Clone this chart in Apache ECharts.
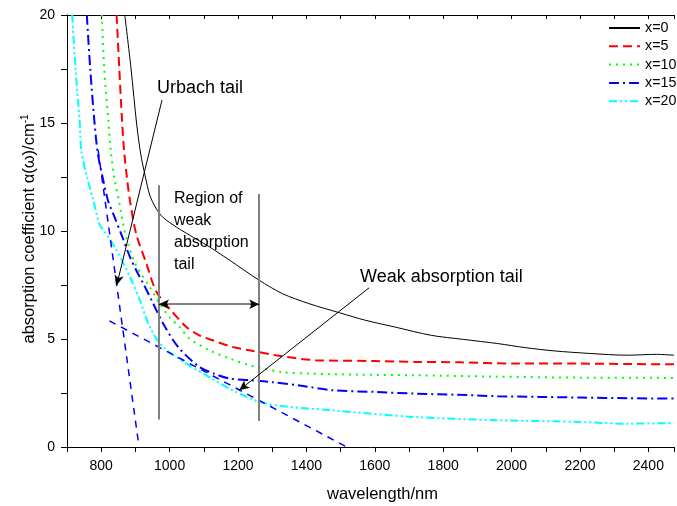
<!DOCTYPE html>
<html>
<head>
<meta charset="utf-8">
<script src="https://cdn.jsdelivr.net/npm/echarts@6/dist/echarts.min.js"></script>
<style>
  html, body { margin: 0; padding: 0; background: #fff; }
  #main { width: 677px; height: 506px; }
</style>
</head>
<body>
<div id="main"></div>
<script>
// data: [wavelength nm, alpha cm^-1]
var curveX0 = [[869, 20], [887, 17.55], [904, 14.91], [916, 13.52], [928, 12.59], [942, 11.66], [960, 11.06],
  [980, 10.64], [1020, 10.18], [1070, 9.7], [1116, 9.27], [1180, 8.6], [1262, 7.72], [1330, 7.1], [1407, 6.64],
  [1500, 6.2], [1572, 5.87], [1660, 5.55], [1765, 5.17], [1860, 4.98], [1959, 4.79], [2040, 4.6], [2124, 4.45],
  [2230, 4.33], [2337, 4.25], [2424, 4.29], [2475, 4.25]];
var curveX5 = [[845, 20], [853, 17.5], [861, 15.1], [867, 13.7], [875, 12.5], [884, 11.42], [902, 9.89],
  [932, 8.5], [961, 7.2], [1000, 6.4], [1049, 5.56], [1087, 5.17], [1126, 4.94], [1184, 4.63], [1233, 4.48],
  [1310, 4.25], [1426, 4.02], [1600, 3.98], [1717, 3.94], [1850, 3.92], [2008, 3.86], [2200, 3.86],
  [2350, 3.84], [2475, 3.83]];
var curveX10 = [[802, 20], [809, 17.5], [821, 15.1], [828, 13.7], [840, 12.3], [852, 11.4], [870, 9.9],
  [899, 8.5], [942, 7.41], [971, 6.64], [1000, 6.0], [1029, 5.56], [1058, 5.02], [1116, 4.48], [1175, 4.1],
  [1240, 3.76], [1329, 3.47], [1407, 3.4], [1550, 3.35], [1717, 3.32], [1950, 3.26], [2201, 3.21], [2475, 3.2]];
var curveX15 = [[758, 20], [768, 17.5], [780, 15.1], [790, 13.6], [806, 12.35], [820, 11.4], [835, 10.8],
  [860, 9.8], [884, 8.8], [905, 8.1], [923, 7.57], [952, 6.64], [981, 5.72], [1025, 4.63], [1087, 3.71],
  [1130, 3.4], [1175, 3.17], [1233, 3.1], [1300, 3.0], [1380, 2.85], [1475, 2.63], [1600, 2.55], [1717, 2.47],
  [1840, 2.42], [1959, 2.35], [2080, 2.32], [2201, 2.29], [2340, 2.26], [2475, 2.24]];
var curveX20 = [[715, 20], [725, 17.5], [737, 15.1], [742, 13.7], [760, 12.4], [777, 11.42], [795, 10.3],
  [811, 9.95], [845, 9.11], [884, 7.88], [913, 6.8], [942, 5.56], [981, 4.63], [1049, 3.86], [1116, 3.24],
  [1184, 2.63], [1281, 2.01], [1475, 1.70], [1717, 1.39], [1959, 1.24], [2201, 1.16], [2337, 1.08], [2475, 1.11]];

var seriesNames = ["x=0", "x=5", "x=10", "x=15", "x=20"];

// annotation lines (data coordinates)
var urbachFit = [[791, 13.74], [910, 0.08]];
var weakFit = [[824, 5.84], [1518, 0]];
var regionLeft = [[969, 12.12], [969, 1.27]];
var regionRight = [[1262, 11.71], [1262, 1.2]];
var regionSpan = [[969, 6.61], [1262, 6.61]];
var urbachPointer = [[977.8, 16.06], [845.3, 7.49]];
var weakPointer = [[1583.5, 7.37], [1203.6, 2.63]];

var xTicks = [800, 1000, 1200, 1400, 1600, 1800, 2000, 2200, 2400];
var yTicks = [0, 5, 10, 15, 20];

var FONT = "'Liberation Sans', Arial, sans-serif";

var myChart = echarts.init(document.getElementById("main"));

function curve(name, data, color, width, dash) {
  return {
    name: name,
    type: "line",
    data: data,
    showSymbol: false,
    symbol: "none",
    smooth: 0.3,
    lineStyle: { color: color, width: width, type: dash },
    itemStyle: { color: color },
    z: 3
  };
}

function seg(pts, color, width, type, symbols) {
  return [
    { coord: pts[0], symbol: symbols[0], lineStyle: { color: color, width: width, type: type } },
    { coord: pts[1], symbol: symbols[1] }
  ];
}

var option = {
  animation: false,
  backgroundColor: "#fff",
  grid: { left: 67, right: 0, top: 15, bottom: 59 },
  legend: {
    data: seriesNames,
    orient: "vertical",
    left: 608,
    top: 21,
    padding: 0,
    itemWidth: 31,
    itemHeight: 14,
    itemGap: 4.3,
    itemStyle: { opacity: 0 },
    textStyle: { fontSize: 14.3, color: "#000", fontFamily: FONT }
  },
  xAxis: [
    {
      type: "value",
      min: 700,
      max: 2475,
      interval: 100,
      axisLine: { show: true, lineStyle: { color: "#000", width: 1 } },
      axisTick: { show: true, inside: false, length: 5, lineStyle: { color: "#000" } },
      splitLine: { show: false },
      axisLabel: {
        margin: 12,
        fontSize: 14,
        color: "#000",
        fontFamily: FONT,
        formatter: function (v) {
          return xTicks.indexOf(v) >= 0 ? String(v) : "";
        }
      }
    },
    {
      type: "value",
      position: "top",
      min: 700,
      max: 2475,
      interval: 100,
      axisLine: { show: true, lineStyle: { color: "#000", width: 1 } },
      axisTick: { show: true, inside: true, length: 4, lineStyle: { color: "#000" } },
      axisLabel: { show: false },
      splitLine: { show: false }
    }
  ],
  yAxis: {
    type: "value",
    min: 0,
    max: 20,
    interval: 2.5,
    axisLine: { show: true, lineStyle: { color: "#000", width: 1 } },
    axisTick: { show: true, inside: false, length: 6, lineStyle: { color: "#000" } },
    splitLine: { show: false },
    axisLabel: {
      margin: 12,
      fontSize: 14,
      color: "#000",
      fontFamily: FONT,
      formatter: function (v) {
        return yTicks.indexOf(v) >= 0 ? String(v) : "";
      }
    }
  },
  series: [
    curve(seriesNames[0], curveX0, "#000000", 1, "solid"),
    curve(seriesNames[1], curveX5, "#ff0000", 2, [9, 5]),
    curve(seriesNames[2], curveX10, "#00ff00", 2, [2, 5]),
    curve(seriesNames[3], curveX15, "#0000ff", 2, [10, 4, 2, 4]),
    curve(seriesNames[4], curveX20, "#00ffff", 2, [8, 3, 2, 3, 2, 3]),
    {
      name: "annotations",
      type: "line",
      data: [],
      silent: true,
      z: 4,
      markLine: {
        silent: true,
        animation: false,
        symbolSize: [7, 10],
        label: { show: false },
        emphasis: { disabled: true },
        data: [
          seg(urbachFit, "#0000ff", 1.5, [7, 6], ["none", "none"]),
          seg(weakFit, "#0000ff", 1.5, [7, 6], ["none", "none"]),
          seg(regionLeft, "#808080", 2, "solid", ["none", "none"]),
          seg(regionRight, "#808080", 2, "solid", ["none", "none"]),
          seg(regionSpan, "#808080", 2, "solid", ["none", "none"]),
          seg([[995, 6.61], regionSpan[0]], "#000", 1, "solid", ["none", "arrow"]),
          seg([[1236, 6.61], regionSpan[1]], "#000", 1, "solid", ["none", "arrow"]),
          seg(urbachPointer, "#000", 1, "solid", ["none", "arrow"]),
          seg(weakPointer, "#000", 1, "solid", ["none", "arrow"])
        ]
      }
    }
  ],
  graphic: [
    {
      type: "text", x: 157, y: 88.5, silent: true,
      style: { text: "Urbach tail", font: "18px " + FONT, fill: "#000", verticalAlign: "middle" }
    },
    {
      type: "text", x: 360, y: 277.5, silent: true,
      style: { text: "Weak absorption tail", font: "18px " + FONT, fill: "#000", verticalAlign: "middle" }
    },
    {
      type: "text", x: 174, y: 198.5, silent: true,
      style: { text: "Region of", font: "16px " + FONT, fill: "#000", verticalAlign: "middle" }
    },
    {
      type: "text", x: 174, y: 221, silent: true,
      style: { text: "weak", font: "16px " + FONT, fill: "#000", verticalAlign: "middle" }
    },
    {
      type: "text", x: 174, y: 243, silent: true,
      style: { text: "absorption", font: "16px " + FONT, fill: "#000", verticalAlign: "middle" }
    },
    {
      type: "text", x: 174, y: 265, silent: true,
      style: { text: "tail", font: "16px " + FONT, fill: "#000", verticalAlign: "middle" }
    },
    {
      type: "text", x: 382.5, y: 494, silent: true,
      style: { text: "wavelength/nm", font: "16.5px " + FONT, fill: "#000", align: "center", verticalAlign: "middle" }
    },
    {
      type: "text", x: 29, y: 229, rotation: Math.PI / 2, silent: true,
      style: {
        text: "{m|absorption coefficient \u03b1(\u03c9)/cm}{s|-1}",
        align: "center",
        verticalAlign: "middle",
        fill: "#000",
        rich: {
          m: { fontSize: 16.5, fontFamily: FONT, color: "#000", verticalAlign: "bottom" },
          s: { fontSize: 10, fontFamily: FONT, color: "#000", verticalAlign: "top", padding: [0, 0, 8, 0] }
        }
      }
    }
  ]
};

myChart.setOption(option);
window.addEventListener("resize", function () {
  myChart.resize();
});
</script>
</body>
</html>
